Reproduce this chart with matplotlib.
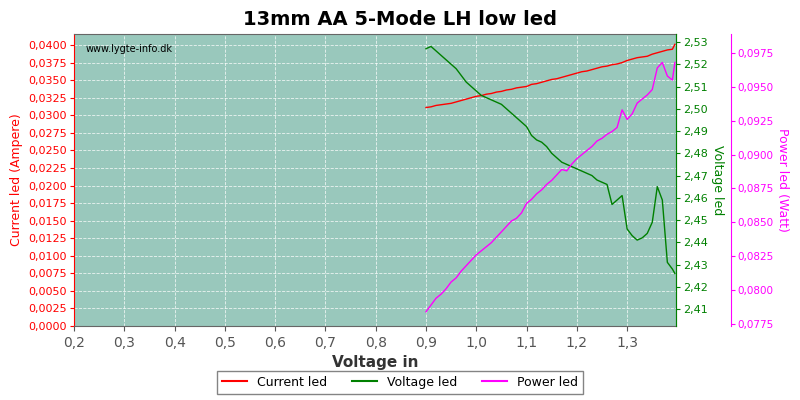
import numpy as np
import matplotlib.pyplot as plt
from matplotlib.ticker import FuncFormatter, MultipleLocator

voltage_in = [0.90, 0.91, 0.92, 0.93, 0.94, 0.95, 0.96, 0.97, 0.98, 0.99,
              1.00, 1.01, 1.02, 1.03, 1.04, 1.05, 1.06, 1.07, 1.08, 1.09,
              1.10, 1.11, 1.12, 1.13, 1.14, 1.15, 1.16, 1.17, 1.18, 1.19,
              1.20, 1.21, 1.22, 1.23, 1.24, 1.25, 1.26, 1.27, 1.28, 1.29,
              1.30, 1.31, 1.32, 1.33, 1.34, 1.35, 1.36, 1.37, 1.38, 1.39, 1.395]
current = [0.0311, 0.0312, 0.0314, 0.0315, 0.0316, 0.0317, 0.0319, 0.0321, 0.0323, 0.0325,
           0.0327, 0.0328, 0.0330, 0.0331, 0.0333, 0.0334, 0.0336, 0.0337, 0.0339, 0.0340,
           0.0341, 0.0344, 0.0345, 0.0347, 0.0349, 0.0351, 0.0352, 0.0354, 0.0356, 0.0358,
           0.0360, 0.0362, 0.0363, 0.0365, 0.0367, 0.0369, 0.0370, 0.0372, 0.0373, 0.0375,
           0.0378, 0.0380, 0.0382, 0.0383, 0.0384, 0.0387, 0.0389, 0.0391, 0.0393, 0.0394, 0.0401]
voltage_led = [2.527, 2.528, 2.526, 2.524, 2.522, 2.520, 2.518, 2.515, 2.512, 2.510,
               2.508, 2.506, 2.505, 2.504, 2.503, 2.502, 2.500, 2.498, 2.496, 2.494,
               2.492, 2.488, 2.486, 2.485, 2.483, 2.480, 2.478, 2.476, 2.475, 2.474,
               2.473, 2.472, 2.471, 2.470, 2.468, 2.467, 2.466, 2.457, 2.459, 2.461,
               2.446, 2.443, 2.441, 2.442, 2.444, 2.449, 2.465, 2.459, 2.431, 2.428, 2.426]
power = [0.0784, 0.0789, 0.0794, 0.0797, 0.0801, 0.0806, 0.0809, 0.0814, 0.0818, 0.0822,
         0.0826, 0.0829, 0.0832, 0.0835, 0.0839, 0.0843, 0.0847, 0.0851, 0.0853, 0.0857,
         0.0864, 0.0867, 0.0871, 0.0874, 0.0878, 0.0881, 0.0885, 0.0889, 0.0888, 0.0893,
         0.0897, 0.0900, 0.0903, 0.0906, 0.0910, 0.0912, 0.0915, 0.0917, 0.0920, 0.0933,
         0.0926, 0.0930, 0.0938, 0.0941, 0.0944, 0.0948, 0.0964, 0.0968, 0.0958, 0.0955, 0.0968]

plt.rcParams['font.family'] = 'DejaVu Sans'
fig = plt.figure(figsize=(8, 4), dpi=100)
ax = fig.add_axes([0.0925, 0.185, 0.753, 0.73])
ax2 = ax.twinx()
ax3 = ax.twinx()
ax3.spines['right'].set_position(('outward', 39))

ax.set_facecolor('#99c8bc')
ax.plot(voltage_in, current, color='red', lw=1)
ax2.plot(voltage_in, voltage_led, color='green', lw=1)
ax3.plot(voltage_in, power, color='magenta', lw=1)

ax.set_xlim(0.2, 1.398)
ax.set_ylim(0, 0.04157)
ax2.set_ylim(2.4024, 2.5336)
ax3.set_ylim(0.07735, 0.0989)

comma = lambda fmt: FuncFormatter(lambda v, p: (fmt % v).replace('.', ','))
ax.xaxis.set_major_locator(MultipleLocator(0.1))
ax.xaxis.set_major_formatter(comma('%.1f'))
ax.yaxis.set_major_locator(MultipleLocator(0.0025))
ax.yaxis.set_major_formatter(comma('%.4f'))
ax2.yaxis.set_major_locator(MultipleLocator(0.01))
ax2.yaxis.set_major_formatter(comma('%.2f'))
ax3.yaxis.set_major_locator(MultipleLocator(0.0025))
ax3.yaxis.set_major_formatter(comma('%.4f'))

ax.grid(True, color='white', ls='--', lw=0.6, alpha=0.8)
for s in ['top', 'bottom', 'right']:
    ax.spines[s].set_color('#666666')
ax.spines['left'].set_color('red')
ax.tick_params(axis='y', colors='red', labelsize=8, length=3, pad=2)
ax.tick_params(axis='x', colors='#555555', labelsize=10)
ax2.spines['right'].set_color('green')
ax2.tick_params(axis='y', colors='green', labelsize=8, length=3, pad=2)
ax3.spines['right'].set_color('magenta')
ax3.tick_params(axis='y', colors='magenta', labelsize=7.5, length=3, pad=2)
for a in (ax2, ax3):
    a.spines['left'].set_visible(False)
    a.spines['top'].set_visible(False)
    a.spines['bottom'].set_visible(False)

ax.set_xlabel('Voltage in', fontsize=11, fontweight='bold', color='#333333')
ax.set_ylabel('Current led (Ampere)', color='red', fontsize=9)
ax2.set_ylabel('Voltage led', color='green', fontsize=9, rotation=270, va='center')
ax2.yaxis.set_label_coords(1.068, 0.5)
ax3.set_ylabel('Power led (Watt)', color='magenta', fontsize=9, rotation=270, va='center')
ax3.yaxis.set_label_coords(1.176, 0.5)
fig.suptitle('13mm AA 5-Mode LH low led', fontsize=14, fontweight='bold', y=0.975)
ax.text(0.02, 0.965, 'www.lygte-info.dk', transform=ax.transAxes, fontsize=7, va='top')

handles = [plt.Line2D([], [], color=c, lw=1.5) for c in ('red', 'green', 'magenta')]
fig.legend(handles, ['Current led', 'Voltage led', 'Power led'], loc='lower center',
           ncol=3, fontsize=9, bbox_to_anchor=(0.5, 0.0), frameon=True,
           fancybox=False, edgecolor='#666666', handlelength=2)
fig.savefig('out.png')
